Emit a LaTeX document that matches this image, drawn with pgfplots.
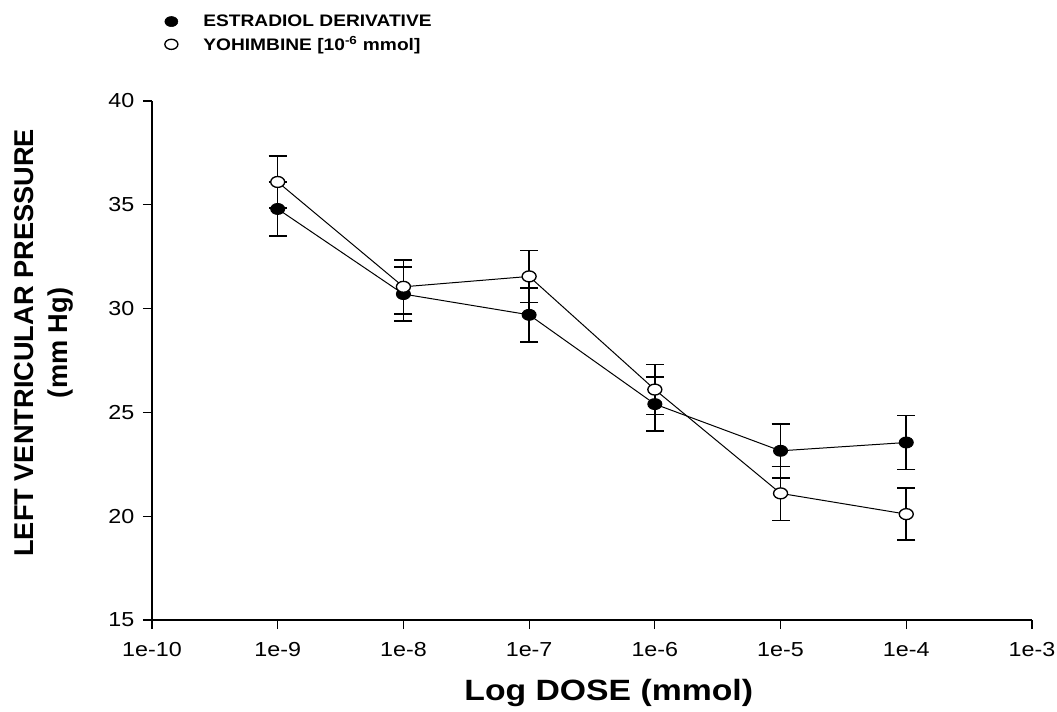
\documentclass[border=0pt]{standalone}
\usepackage{pgfplots}
\pgfplotsset{compat=1.18}
\usepackage{pgfplotstable}
\usepackage{fontspec}
\setmainfont{Liberation Sans}
\newfontfamily\wide[FakeStretch=1.15]{Liberation Sans}

\pgfplotstableread{
x y e
1e-9 34.8 1.3
1e-8 30.7 1.3
1e-7 29.7 1.3
1e-6 25.4 1.3
1e-5 23.15 1.3
1e-4 23.55 1.3
}\estradiol

\pgfplotstableread{
x y e
1e-9 36.1 1.25
1e-8 31.05 1.3
1e-7 31.55 1.25
1e-6 26.1 1.2
1e-5 21.1 1.3
1e-4 20.1 1.25
}\yohimbine

\begin{document}
\begin{tikzpicture}
\useasboundingbox (-114pt,-68.25pt) rectangle (678.75pt,465pt);
\begin{axis}[
  scale only axis, width=660pt, height=389.25pt,
  xmode=log, xmin=1e-10, xmax=1e-3, ymin=15, ymax=40,
  xtick={1e-10,1e-9,1e-8,1e-7,1e-6,1e-5,1e-4,1e-3},
  xticklabels={1e-10,1e-9,1e-8,1e-7,1e-6,1e-5,1e-4,1e-3},
  xminorticks=false,
  ytick={15,20,25,30,35,40},
  axis x line*=bottom, axis y line*=left,
  tick align=outside, major tick length=6.75pt,
  tick style={black, line width=0.9pt},
  axis line style={line width=0.9pt},
  ticklabel style={font=\wide\fontsize{15.2}{18}\selectfont},
  xticklabel style={yshift=-6.5pt},
  yticklabel style={xshift=-3pt},
  /pgf/number format/assume math mode=true,
  legend style={at={(axis description cs:0.009,1.177)}, anchor=north west, draw=none, fill=none,
    font=\wide\bfseries\fontsize{12.5}{15}\selectfont, row sep=2pt,
    /tikz/every odd column/.append style={column sep=16.6pt}},
  legend cell align=left,
  clip=false,
]
\addplot[forget plot, black, line width=0.75pt, mark=*, mark size=4.1pt,
  mark options={fill=black, xscale=1.28, solid},
  error bars/.cd, y dir=both, y explicit,
  error bar style={line width=1.2pt},
  error mark options={rotate=90, mark size=6.75pt, line width=1.2pt}]
  table[x=x, y=y, y error=e] {\estradiol};
\addplot[forget plot, black, line width=0.75pt, mark=*, mark size=4.1pt,
  mark options={fill=white, xscale=1.28, solid, line width=1pt},
  error bars/.cd, y dir=both, y explicit,
  error bar style={line width=1.2pt},
  error mark options={rotate=90, mark size=6.75pt, line width=1.2pt}]
  table[x=x, y=y, y error=e] {\yohimbine};
\addlegendimage{legend image code/.code={\draw[black, fill=black] (0.3cm,0cm) ellipse [x radius=4.9pt, y radius=3.8pt];}}
\addlegendentry{ESTRADIOL DERIVATIVE}
\addlegendimage{legend image code/.code={\draw[black, fill=white, line width=1pt] (0.3cm,0cm) ellipse [x radius=4.9pt, y radius=3.8pt];}}
\addlegendentry{YOHIMBINE [10\textsuperscript{-6} mmol]}
\node[anchor=base, font=\wide\bfseries\fontsize{22}{26}\selectfont] at (axis description cs:0.519,-0.156) {Log DOSE (mmol)};
\node[rotate=90, align=center, font=\bfseries\fontsize{20.4}{25.5}\selectfont] at (axis description cs:-0.1226,0.534) {LEFT VENTRICULAR PRESSURE\\(mm Hg)};
\end{axis}
\end{tikzpicture}
\end{document}
